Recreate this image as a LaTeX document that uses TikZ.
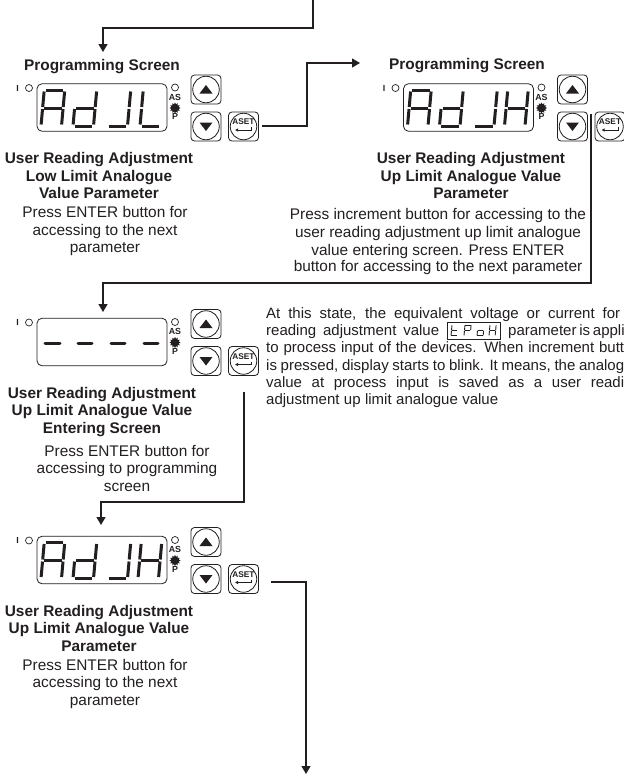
\documentclass[tikz,border=0pt]{standalone}
\usepackage{fontspec}
\setmainfont{Liberation Sans}
\usetikzlibrary{arrows.meta,shapes.geometric}
\definecolor{ink}{HTML}{231F20}
\tikzset{
  x=1pt,y=-1pt,
  btn/.style={draw=ink,line width=.8pt,rounded corners=3.5pt,minimum width=30pt,minimum height=29pt,inner sep=0pt,outer sep=0pt},
  disp/.style={draw=ink,line width=.8pt,rounded corners=5pt,minimum width=130pt,minimum height=47.5pt,inner sep=0pt},
  ring/.style={draw=ink,line width=.8pt},
  flow/.style={draw=ink,line width=1.3pt,-{Triangle[width=9pt,length=8pt]}},
  ttl/.style={font=\fontsize{15.4}{17}\selectfont\bfseries,text=ink,inner sep=0pt,anchor=base},
  body/.style={font=\fontsize{15.4}{17}\selectfont,text=ink,inner sep=0pt,anchor=base},
  para/.style={font=\fontsize{15}{17}\selectfont,text=ink,inner sep=0pt,anchor=base west},
  tiny/.style={font=\fontsize{8.8}{9}\selectfont\bfseries,text=ink,inner sep=0pt},
  aset/.style={font=\fontsize{8.3}{8}\selectfont\bfseries,text=ink,inner sep=0pt},
  led/.style={circle,draw=ink,line width=.7pt,minimum size=7pt,inner sep=0pt},
  burst/.style={star,star points=12,star point ratio=1.45,fill=ink,minimum size=11pt,inner sep=0pt},
}
\newcommand\sg[7]{\draw[ink,line width=#3*3pt]
  ({#1+#3*(#4+0.09*(36-#5))},{#2+#3*#5}) -- ({#1+#3*(#6+0.09*(36-#7))},{#2+#3*#7});}
\newcommand\sA[3]{\sg{#1}{#2}{#3}{1.5}{0}{19}{0}}
\newcommand\sB[3]{\sg{#1}{#2}{#3}{20.5}{1.5}{20.5}{17}}
\newcommand\sC[3]{\sg{#1}{#2}{#3}{20.5}{19}{20.5}{34.5}}
\newcommand\sD[3]{\sg{#1}{#2}{#3}{1.5}{36}{19}{36}}
\newcommand\sE[3]{\sg{#1}{#2}{#3}{0}{19}{0}{34.5}}
\newcommand\sF[3]{\sg{#1}{#2}{#3}{0}{1.5}{0}{17}}
\newcommand\sG[3]{\sg{#1}{#2}{#3}{1.5}{18}{19}{18}}
\newcommand\dA[3]{\sA{#1}{#2}{#3}\sB{#1}{#2}{#3}\sC{#1}{#2}{#3}\sE{#1}{#2}{#3}\sF{#1}{#2}{#3}\sG{#1}{#2}{#3}}
\newcommand\dD[3]{\sB{#1}{#2}{#3}\sC{#1}{#2}{#3}\sD{#1}{#2}{#3}\sE{#1}{#2}{#3}\sG{#1}{#2}{#3}}
\newcommand\dJ[3]{\sB{#1}{#2}{#3}\sC{#1}{#2}{#3}\sD{#1}{#2}{#3}}
\newcommand\dL[3]{\sD{#1}{#2}{#3}\sE{#1}{#2}{#3}\sF{#1}{#2}{#3}}
\newcommand\dH[3]{\sB{#1}{#2}{#3}\sC{#1}{#2}{#3}\sE{#1}{#2}{#3}\sF{#1}{#2}{#3}\sG{#1}{#2}{#3}}
\newcommand\dT[3]{\sD{#1}{#2}{#3}\sE{#1}{#2}{#3}\sF{#1}{#2}{#3}\sG{#1}{#2}{#3}}
\newcommand\dP[3]{\sA{#1}{#2}{#3}\sB{#1}{#2}{#3}\sE{#1}{#2}{#3}\sF{#1}{#2}{#3}\sG{#1}{#2}{#3}}
\newcommand\dO[3]{\sC{#1}{#2}{#3}\sD{#1}{#2}{#3}\sE{#1}{#2}{#3}\sG{#1}{#2}{#3}}
% #1 name, #2 dx, #3 dy, #4 display content
\newcommand\panel[4]{%
\begin{scope}[shift={(#2,#3)}]
  \node[tiny] (#1i) at (17.5,88) {I};
  \node[led] (#1l) at (29,88) {};
  \node[disp] (#1d) at (102,107.5) {};
  \node[led] (#1as) at (175,87.5) {};
  \node[tiny] (#1ast) at (175,97) {AS};
  \node[burst] (#1p) at (175,108) {};
  \node[tiny] (#1pt) at (175,116.5) {P};
  \node[btn] (#1up) at (206,89.5) {};
  \node[circle,ring,minimum size=26.5pt,inner sep=0pt] (#1upc) at (206,89.5) {};
  \fill[ink] (199.5,93.5) -- (212.5,93.5) -- (206,85) -- cycle;
  \node[btn] (#1dn) at (206,126.5) {};
  \node[circle,ring,minimum size=26.5pt,inner sep=0pt] (#1dnc) at (206,126.5) {};
  \fill[ink] (199.5,122.5) -- (212.5,122.5) -- (206,131) -- cycle;
  \node[btn] (#1as2) at (243.5,126.5) {};
  \node[circle,ring,minimum size=26.5pt,inner sep=0pt] (#1asc) at (243.5,126.5) {};
  \node[aset] (#1ast2) at (243.5,122) {ASET};
  \draw[ink,line width=.9pt,-{Latex[length=3pt,width=3.5pt]}] (251.5,127) -- (251.5,130) -- (235,130);
  #4
\end{scope}}
\begin{document}
\begin{tikzpicture}
\useasboundingbox (0,0) rectangle (624,774);
\fill[white] (0,0) rectangle (624,774);

% panels
\panel{a}{0}{0}{\dA{41}{90}{1}\dD{73}{90}{1}\dJ{107}{90}{1}\dL{140}{90}{1}}
\panel{b}{366.5}{0}{\dA{41}{90}{1}\dD{73}{90}{1}\dJ{107}{90}{1}\dH{138}{90}{1}}
\panel{c}{0}{234.5}{%
  \draw[ink,line width=3pt,line cap=round] (45,108.5) -- (60,108.5) (78,108.5) -- (92,108.5) (111,108.5) -- (125,108.5) (144,108.5) -- (158,108.5);}
\panel{e}{0}{452.5}{\dA{41}{90}{1}\dD{73}{90}{1}\dJ{107}{90}{1}\dH{138}{90}{1}}

% panel 1 text
\node[ttl] (a0) at (102,70) {Programming Screen};
\node[ttl] (a1) at (99,163) {User Reading Adjustment};
\node[ttl] (a2) at (99,181) {Low Limit Analogue};
\node[ttl] (a3) at (99,198) {Value Parameter};
\node[body] (a4) at (105,217) {Press ENTER button for};
\node[body] (a5) at (105,235) {accessing to the next};
\node[body] (a6) at (105,252) {parameter};

% panel 2 text
\node[ttl] (b0) at (467,69) {Programming Screen};
\node[ttl] (b1) at (471,163) {User Reading Adjustment};
\node[ttl] (b2) at (471,181) {Up Limit Analogue Value};
\node[ttl] (b3) at (471,198) {Parameter};
\node[body] (b4) at (438,219) {Press increment button for accessing to the};
\node[body] (b5) at (438,237) {user reading adjustment up limit analogue};
\node[body] (b6) at (438,255) {value entering screen. Press ENTER};
\node[body] (b7) at (438,271) {button for accessing to the next parameter};

% panel 3 text
\node[ttl] (c1) at (102,398) {User Reading Adjustment};
\node[ttl] (c2) at (102,415) {Up Limit Analogue Value};
\node[ttl] (c3) at (102,433) {Entering Screen};
\node[body] (c4) at (127,456) {Press ENTER button for};
\node[body] (c5) at (127,473) {accessing to programming};
\node[body] (c6) at (127,491) {screen};

% panel 4 text
\node[ttl] (e1) at (99,616) {User Reading Adjustment};
\node[ttl] (e2) at (99,633) {Up Limit Analogue Value};
\node[ttl] (e3) at (99,651) {Parameter};
\node[body] (e4) at (105,670) {Press ENTER button for};
\node[body] (e5) at (105,687) {accessing to the next};
\node[body] (e6) at (105,705) {parameter};

% paragraph
\node[para] (p1) at (266,318) {\makebox[354pt][s]{At this state, the equivalent voltage or current for}};
\node[para] (p2a) at (266,335) {\makebox[173pt][s]{reading adjustment value}};
\node[draw=ink,line width=.7pt,minimum width=53pt,minimum height=17pt,inner sep=0pt] (pbox) at (473.5,330.5) {};
\dT{451}{325}{.3}\dP{464}{325}{.3}\dO{477}{325}{.3}\dH{489}{325}{.3}
\node[para] (p2b) at (508,335) {\makebox[116pt][s]{parameter is appli}};
\node[para] (p3) at (266,352) {\makebox[358pt][s]{to process input of the devices. When increment butt}};
\node[para] (p4) at (266,370) {\makebox[358pt][s]{is pressed, display starts to blink. It means, the analog}};
\node[para] (p5) at (266,387) {\makebox[358pt][s]{value at process input is saved as a user readi}};
\node[para] (p6) at (266,404) {\makebox[232pt][s]{adjustment up limit analogue value}};

% connectors
\coordinate (top) at (313,0);
\coordinate (a0in) at (103,52);
\draw[flow] (top) |- (103,28) -- (a0in);
\coordinate (aout) at (262,126);
\coordinate (b0in) at (360,63);
\draw[flow] (aout) -- (307,126) |- (b0in);
\coordinate (bout) at (591,114);
\coordinate (cin) at (103,312);
\draw[flow] (bout) |- (103,283) -- (cin);
\coordinate (cout) at (244,392);
\coordinate (ein) at (101,525);
\draw[flow] (cout) |- (101,502) -- (ein);
\coordinate (eout) at (271,582);
\coordinate (end) at (306,774);
\draw[flow] (eout) -| (end);
\end{tikzpicture}
\end{document}
